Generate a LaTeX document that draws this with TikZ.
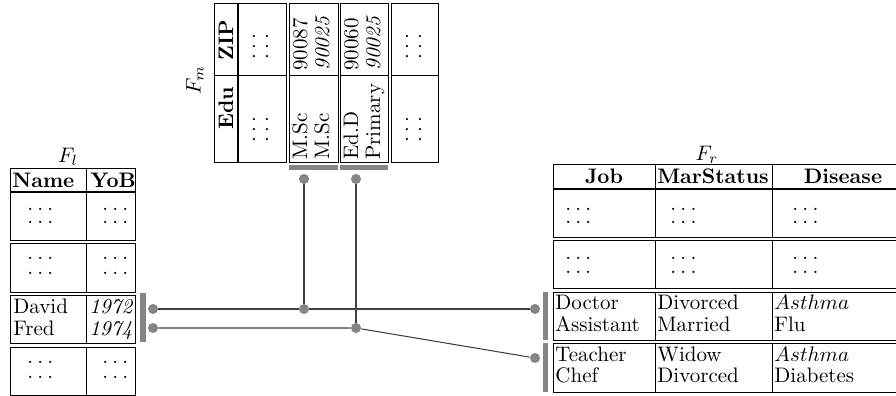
\documentclass[tikz,border=0pt]{standalone}
\newcommand{\mydots}{.\kern2pt.\kern2pt.}
\begin{document}
\begin{tikzpicture}[x=0.4762pt,y=-0.4762pt,
  tb/.style={draw=black, line width=0.45pt},
  hd/.style={draw=black, line width=0.9pt},
  txt/.style={inner sep=0pt, anchor=base west},
  ctxt/.style={inner sep=0pt, anchor=base},
  rtxt/.style={inner sep=0pt, anchor=base west, rotate=90},
  bar/.style={fill=black!48, draw=none},
  dotn/.style={circle, fill=black!48, draw=none, inner sep=0pt, minimum size=4.8pt},
  conn/.style={draw=black!75, line width=0.5pt}]
\useasboundingbox (0,0) rectangle (896,396);
\clip (0,0) rectangle (896,396);

% ---------------- left table F_l ----------------
\node (Fl) at (68,157) {$F_l$};
\draw[tb] (10,168) rectangle (135,240);
\draw[tb] (86,168) -- (86,240);
\draw[hd] (10,192) -- (135,192);
\foreach \a/\b in {243/292,295/343,347/395}{
  \draw[tb] (10,\a) rectangle (135,\b);
  \draw[tb] (86,\a) -- (86,\b);
}
\node[txt] (lh1) at (12,187) {\textbf{Name}};
\node[txt] (lh2) at (90,187) {\textbf{YoB}};
\foreach \y [count=\i] in {210,223,259,274,363,378}{
  \node[txt] (lda\i) at (27,\y) {\mydots};
  \node[txt] (ldb\i) at (102,\y) {\mydots};
}
\node[txt] (ld1) at (13,313) {David};
\node[txt] (ld2) at (13,335) {Fred};
\node[txt] (ly1) at (89,313) {\textit{1972}};
\node[txt] (ly2) at (89,335) {\textit{1974}};

% ---------------- middle table F_m (rotated) ----------------
\node[rotate=90] (Fm) at (195,80) {$F_m$};
\draw[tb] (214,3) rectangle (286,162);
\draw[hd] (238,3) -- (238,162);
\draw[tb] (214,75) -- (286,75);
\foreach \a/\b in {289/338,340/388,391/438}{
  \draw[tb] (\a,3) rectangle (\b,162);
  \draw[tb] (\a,75) -- (\b,75);
}
\node[rotate=90, inner sep=0pt] (mh1) at (226,108) {\textbf{Edu}};
\node[rotate=90, inner sep=0pt] (mh2) at (226,40) {\textbf{ZIP}};
\foreach \x [count=\i] in {255,268,408,421}{
  \node[rtxt] (mde\i) at (\x,143) {\mydots};
  \node[rtxt] (mdz\i) at (\x,60) {\mydots};
}
\node[rtxt] (me1) at (307,160) {M.Sc};
\node[rtxt] (me2) at (329,160) {M.Sc};
\node[rtxt] (mz1) at (307,71) {90087};
\node[rtxt] (mz2) at (329,71) {\textit{90025}};
\node[rtxt] (me3) at (358,160) {Ed.D};
\node[rtxt] (me4) at (380,160) {Primary};
\node[rtxt] (mz3) at (358,71) {90060};
\node[rtxt] (mz4) at (380,71) {\textit{90025}};

% ---------------- right table F_r ----------------
\node (Fr) at (707,155) {$F_r$};
\draw[tb] (553,164) rectangle (914,237);
\draw[tb] (655,164) -- (655,237);
\draw[tb] (772,164) -- (772,237);
\draw[hd] (553,189) -- (914,189);
\foreach \a/\b in {240/288,292/340,343/392}{
  \draw[tb] (553,\a) rectangle (914,\b);
  \draw[tb] (655,\a) -- (655,\b);
  \draw[tb] (772,\a) -- (772,\b);
}
\node[ctxt] (rh1) at (604,183) {\textbf{Job}};
\node[ctxt] (rh2) at (713,183) {\textbf{MarStatus}};
\node[ctxt] (rh3) at (843,183) {\textbf{Disease}};
\foreach \y [count=\i] in {210,223,259,273}{
  \node[txt] (rda\i) at (565,\y) {\mydots};
  \node[txt] (rdb\i) at (670,\y) {\mydots};
  \node[txt] (rdc\i) at (792,\y) {\mydots};
}
\node[txt] (r1) at (555,309) {Doctor};
\node[txt] (r2) at (555,331) {Assistant};
\node[txt] (r3) at (657,309) {Divorced};
\node[txt] (r4) at (657,331) {Married};
\node[txt] (r5) at (774,309) {$Asthma$};
\node[txt] (r6) at (774,331) {Flu};
\node[txt] (r7) at (555,361) {Teacher};
\node[txt] (r8) at (555,382) {Chef};
\node[txt] (r9) at (657,361) {Widow};
\node[txt] (r10) at (657,382) {Divorced};
\node[txt] (r11) at (774,361) {$Asthma$};
\node[txt] (r12) at (774,382) {Diabetes};

% ---------------- bars ----------------
\fill[bar] (140,293) rectangle (146,342);
\fill[bar] (543,292) rectangle (548,340);
\fill[bar] (543,343) rectangle (548,392);
\fill[bar] (289,165) rectangle (338,170);
\fill[bar] (340,165) rectangle (388,170);

% ---------------- connectors ----------------
\node[dotn] (la) at (153,309) {};
\node[dotn] (lb) at (153,328) {};
\node[dotn] (ra) at (535,309) {};
\node[dotn] (rb) at (535,358) {};
\node[dotn] (ma) at (304,179) {};
\node[dotn] (mb) at (356,179) {};
\node[dotn] (ja) at (304,309) {};
\node[dotn] (jb) at (356,328) {};
\draw[conn] (la) -- (ja) -- (ra);
\draw[conn] (lb) -- (jb) -- (rb);
\draw[conn] (ma) -- (ja);
\draw[conn] (mb) -- (jb);
\end{tikzpicture}
\end{document}
